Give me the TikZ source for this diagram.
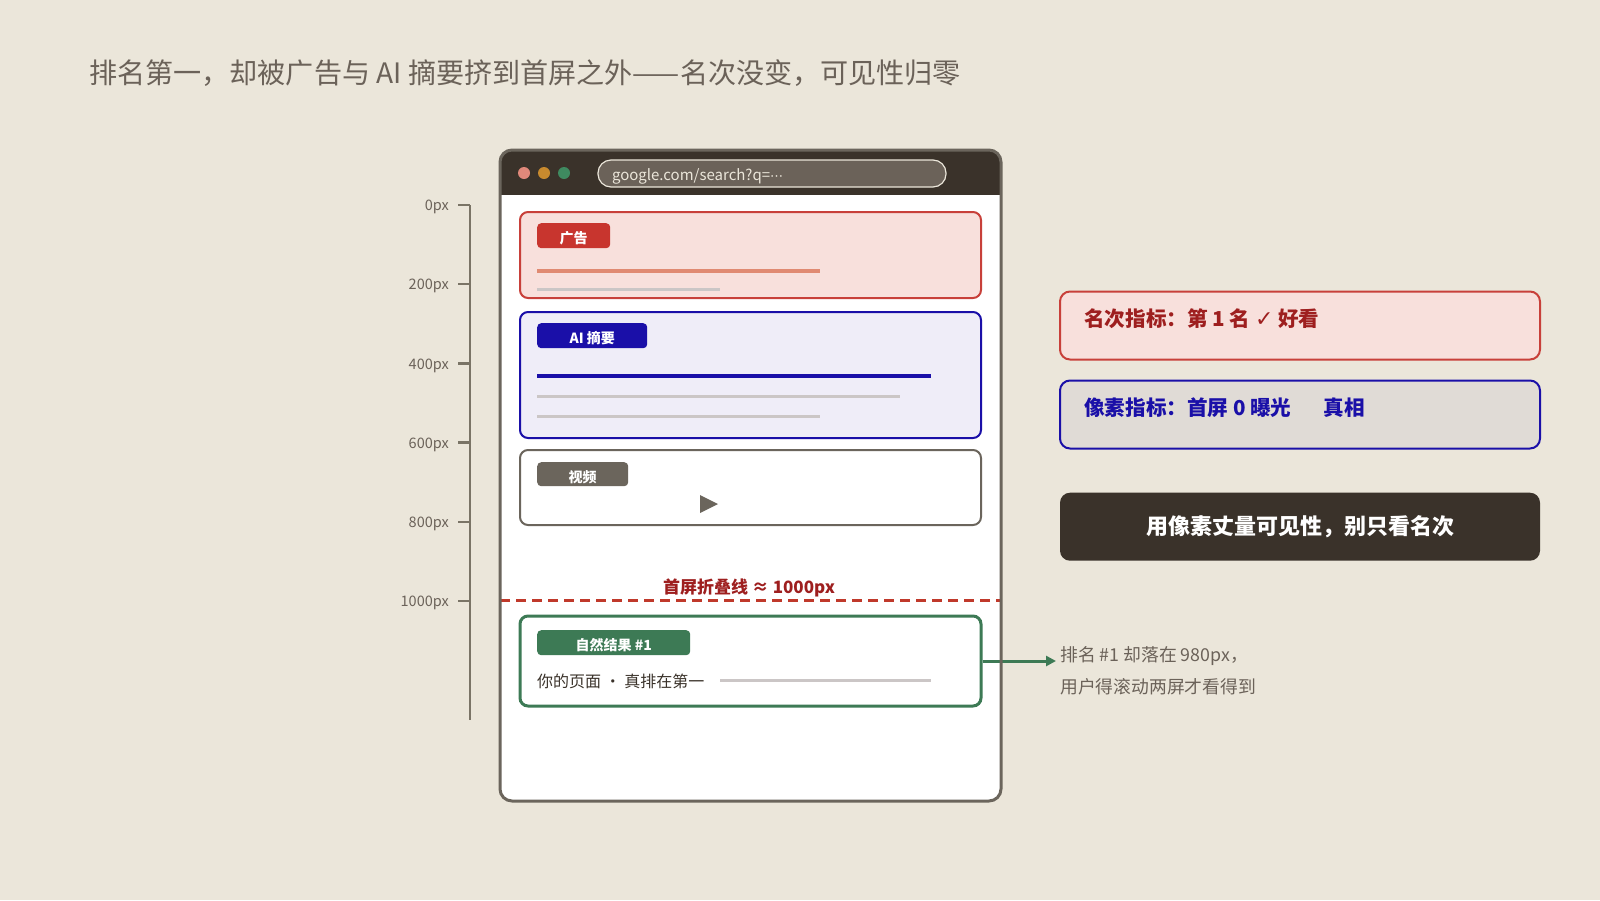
\documentclass[tikz,border=0pt]{standalone}
\usepackage{fontspec}
\setmainfont{Noto Sans CJK SC}
\newfontfamily\symbolfont{DejaVu Sans}
\usetikzlibrary{positioning,calc,arrows.meta}

\newcommand\pxsize[1]{\fontsize{#1}{#1}\selectfont}

\definecolor{paper}{HTML}{EBE6DA}
\definecolor{ink}{HTML}{3A322A}
\definecolor{muted}{HTML}{6B6259}
\definecolor{frame}{HTML}{6B655C}
\definecolor{rulegray}{HTML}{7A7466}
\definecolor{adred}{HTML}{C8403A}
\definecolor{adtagred}{HTML}{C8352E}
\definecolor{adfill}{HTML}{F8E0DC}
\definecolor{darkred}{HTML}{9E1F1F}
\definecolor{foldred}{HTML}{C0392B}
\definecolor{aiblue}{HTML}{1A0FA8}
\definecolor{aifill}{HTML}{EFEDF8}
\definecolor{pixfill}{HTML}{E0DBD6}
\definecolor{seo}{HTML}{3D7A55}
\definecolor{salmon}{HTML}{E08A72}
\definecolor{bargray}{HTML}{CBC6C6}
\definecolor{dotred}{HTML}{E0887A}
\definecolor{dotgold}{HTML}{C88A2E}
\definecolor{dotgreen}{HTML}{3F8A60}

\tikzset{
  card/.style={draw=#1, line width=2pt, rounded corners=8pt,
    minimum width=461pt, inner sep=0pt},
  badge/.style={fill=#1, text=white, rounded corners=4pt, inner sep=0pt,
    minimum height=25pt, anchor=north west, text height=16.4pt, text depth=0pt,
    font=\pxsize{14}\bfseries},
  sidebox/.style={draw=#1, line width=2pt, rounded corners=10pt,
    minimum width=480pt, minimum height=68pt, inner sep=0pt},
  sidetext/.style={anchor=west, inner sep=0pt, font=\pxsize{20.6}\bfseries},
  rulerline/.style={draw=rulegray, line width=2.5pt},
  rulerlabel/.style={anchor=east, inner sep=0pt, text=muted, font=\pxsize{14.5}},
  bar/.style={line width=#1}
}

\begin{document}
\begin{tikzpicture}[x=1pt, y=-1pt]
  \useasboundingbox (0,0) rectangle (1600,900);
  \fill[paper] (0,0) rectangle (1600,900);

  \node[anchor=west, inner sep=0pt, text=muted, font=\pxsize{28.1}] (title) at (89,73)
    {排名第一，却被广告与 AI 摘要挤到首屏之外——名次没变，可见性归零};

  \draw[rulerline] (470,205) -- (470,720);
  \foreach \m in {0,200,...,1000}{
    \pgfmathsetmacro\yy{205+0.396*\m}
    \coordinate (mark\m) at (470,\yy);
    \draw[rulerline] (mark\m) -- ++(-12,0);
    \node[rulerlabel] (lab\m) at (449,\yy+2) {\m px};
  }

  \node[fill=white, rounded corners=12pt, minimum width=501pt, minimum height=651pt,
    inner sep=0pt, outer sep=0pt] (browser) at (750.5,475.5) {};
  \begin{scope}
    \clip[rounded corners=12pt] (browser.north west) rectangle (browser.south east);
    \fill[ink] (browser.north west) rectangle (1001,195);
  \end{scope}
  \foreach \c [count=\i] in {dotred,dotgold,dotgreen}
    \fill[\c] ({504+20*\i},173) circle (6pt);
  \node[draw=paper, fill=muted, line width=1.2pt, rounded corners=13pt,
    minimum height=27pt, text width=320pt, inner xsep=14pt, inner ysep=0pt,
    text height=14pt, text depth=0pt, align=left, text=paper, font=\pxsize{15}]
    (url) at (772,173.5) {google.com/search?q={\symbolfont\pxsize{13}⋯}};

  \node[card=adred, fill=adfill, minimum height=86pt] (ad) at (750.5,255) {};
  \node[badge=adtagred, minimum width=73pt] (adtag) at (537,223) {广告};
  \draw[salmon, bar=4pt] (537,271) -- (820,271);
  \draw[bargray, bar=3pt] (537,289) -- (720,289);

  \node[card=aiblue, fill=aifill, minimum height=126pt] (ai) at (750.5,375) {};
  \node[badge=aiblue, minimum width=110pt] (aitag) at (537,323) {AI 摘要};
  \draw[aiblue, bar=3.5pt] (537,376) -- (931,376);
  \draw[bargray, bar=3pt] (537,396) -- (900,396);
  \draw[bargray, bar=3pt] (537,416) -- (820,416);

  \node[card=frame, fill=white, minimum height=75pt] (video) at (750.5,487.5) {};
  \node[badge=frame, minimum width=91pt, minimum height=24pt] (videotag) at (537,462) {视频};
  \fill[frame] (700,495) -- (700,513) -- (718,504) -- cycle;

  \coordinate (foldL) at (browser.west |- 0,600);
  \coordinate (foldR) at (browser.east |- 0,600);
  \draw[foldred, line width=3pt, dash pattern=on 10pt off 6pt] (foldL) -- (foldR);
  \node[anchor=south, inner sep=0pt, text=darkred, font=\pxsize{17}\bfseries] (foldtag)
    at (749,597) {首屏折叠线 ≈ 1000px};

  \node[card=seo, fill=white, line width=3pt, minimum height=90pt] (organic) at (750.5,661) {};
  \node[badge=seo, minimum width=153pt] (orgtag) at (537,630) {自然结果 \#1};
  \node[anchor=west, inner sep=0pt, text=ink, font=\pxsize{16}] (page) at (537,681)
    {你的页面 · 真排在第一};
  \draw[bargray, bar=3pt] (720,680) -- (931,680);

  \node[anchor=north west, inner sep=0pt, align=left, text=muted,
    font=\fontsize{17.8}{32}\selectfont] (note) at (1060,646)
    {排名 \#1 却落在 980px，\\用户得滚动两屏才看得到};
  \draw[seo, line width=3pt, -{Triangle[length=10pt,width=10pt]}, shorten >=4pt]
    (organic.east) -- (organic.east -| note.west);

  \draw[frame, line width=3pt, rounded corners=12pt] (browser.north west) rectangle (browser.south east);

  \node[sidebox=adred, fill=adfill] (rank) at (1300,325.5) {};
  \node[sidebox=aiblue, fill=pixfill, below=19pt of rank] (pixel) {};
  \node[fill=ink, rounded corners=10pt, minimum width=480pt, minimum height=68pt,
    text=white, font=\pxsize{22}\bfseries, below=43pt of pixel] (verdict)
    {用像素丈量可见性，别只看名次};
  \node[sidetext, text=darkred] (ranktxt) at ($(rank.north west)+(25,28)$)
    {名次指标：第 1 名 {\symbolfont\pxsize{22}✓} 好看};
  \node[sidetext, text=aiblue] (pixeltxt) at ($(pixel.north west)+(25,28)$)
    {像素指标：首屏 0 曝光\hspace{32pt}真相};
\end{tikzpicture}
\end{document}
